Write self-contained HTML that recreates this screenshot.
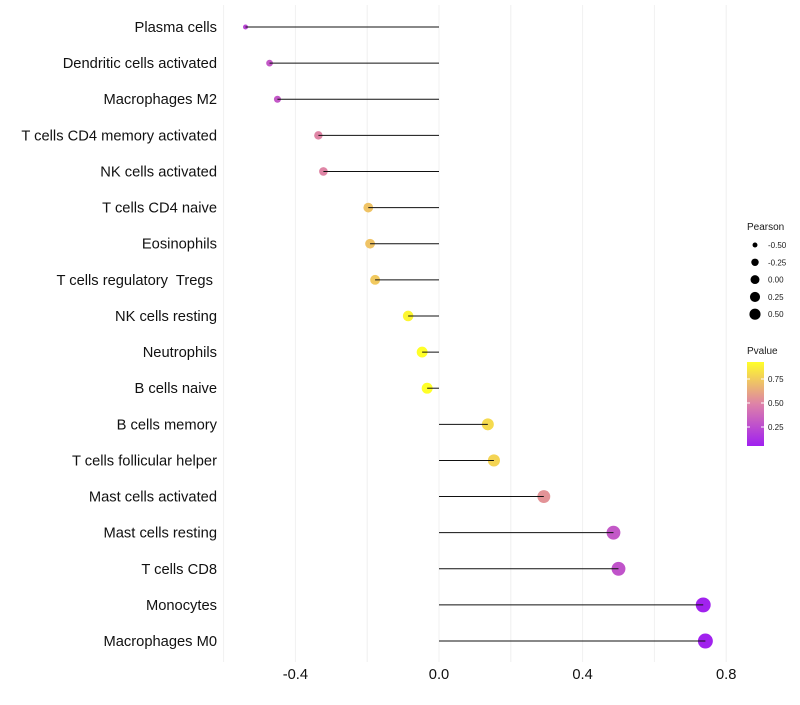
<!DOCTYPE html>
<html><head><meta charset="utf-8"><style>
body{margin:0;background:#fff;font-family:"Liberation Sans",sans-serif}
</style></head><body>
<svg id="chart" width="800" height="700" xmlns="http://www.w3.org/2000/svg"></svg>
<script>
const categories=["Plasma cells","Dendritic cells activated","Macrophages M2","T cells CD4 memory activated","NK cells activated","T cells CD4 naive","Eosinophils","T cells regulatory  Tregs ","NK cells resting","Neutrophils","B cells naive","B cells memory","T cells follicular helper","Mast cells activated","Mast cells resting","T cells CD8","Monocytes","Macrophages M0"];
const pearson=[-0.539,-0.472,-0.45,-0.336,-0.322,-0.197,-0.192,-0.178,-0.086,-0.047,-0.033,0.136,0.153,0.292,0.486,0.5,0.736,0.742];
const pvalue=[0.22,0.3,0.3,0.5,0.5,0.72,0.72,0.74,0.9,0.93,0.95,0.8,0.78,0.55,0.3,0.28,0.06,0.06];
const xTicks=[-0.4,0,0.4,0.8];
const xTickLabels=["-0.4","0.0","0.4","0.8"];
const gridVals=[-0.6,-0.4,-0.2,0,0.2,0.4,0.6,0.8];
const sizeLegend=[-0.5,-0.25,0,0.25,0.5];
const sizeLegendLabels=["-0.50","-0.25","0.00","0.25","0.50"];
const pLegend=[0.75,0.5,0.25];
const pLegendLabels=["0.75","0.50","0.25"];

const svg=document.getElementById('chart');
const NS="http://www.w3.org/2000/svg";
const x=v=>439+v*359;
const y=i=>27+i*36.12;
const rad=v=>2+5.5*Math.sqrt(Math.max(0,v+0.55)/1.3);
function lerp(a,b,t){return a.map((c,i)=>Math.round(c+(b[i]-c)*t));}
function col(p){
 const lo=[160,32,240],mid=[222,130,168],hi=[255,255,40];
 const t=Math.max(0,Math.min(1,(p-0.05)/(0.93-0.05)));
 const c=t<0.5?lerp(lo,mid,t*2):lerp(mid,hi,(t-0.5)*2);
 return `rgb(${c[0]},${c[1]},${c[2]})`;
}
function mk(tag,attrs,parent){const e=document.createElementNS(NS,tag);for(const k in attrs)e.setAttribute(k,attrs[k]);(parent||svg).appendChild(e);return e;}

gridVals.forEach(v=>{
 const l=mk('line',{x1:x(v),x2:x(v),y1:5,y2:662,stroke:'#f0f0f0','stroke-width':1});
 
 
});
categories.forEach((c,i)=>{
 const t=mk('text',{x:217,y:y(i)+5,'text-anchor':'end','font-size':14.7,fill:'#111'});
 t.style.whiteSpace='pre';
 t.textContent=c;
 
 
});
xTicks.forEach((v,i)=>{
 const t=mk('text',{x:x(v),y:679,'text-anchor':'middle','font-size':14.7,fill:'#111'});
 t.textContent=xTickLabels[i];
 
 
});
categories.forEach((c,i)=>{
 const v=pearson[i];
 const pt=mk('circle',{cx:x(v),cy:y(i),r:rad(v),fill:col(pvalue[i])});
 
 
 const seg=mk('line',{x1:x(0),x2:x(v),y1:y(i),y2:y(i),stroke:'#111','stroke-width':1});
 
 
});
let t=mk('text',{x:747,y:230,'font-size':10,fill:'#1a1a1a'});t.textContent='Pearson';


sizeLegend.forEach((v,i)=>{
 const yy=245+i*17.3;
 const c=mk('circle',{cx:755,cy:yy,r:rad(v)*0.8,fill:'#000'});
 
 
 const tt=mk('text',{x:768,y:yy+3,'font-size':8,fill:'#1a1a1a'});tt.textContent=sizeLegendLabels[i];
 
 
});
t=mk('text',{x:747,y:354,'font-size':10,fill:'#1a1a1a'});t.textContent='Pvalue';


const defs=mk('defs',{});
const g=mk('linearGradient',{id:'pg',x1:0,y1:1,x2:0,y2:0},defs);
[0,0.25,0.5,0.75,1].forEach(s=>mk('stop',{offset:s,'stop-color':col(0.052+s*(0.927-0.052))},g));
const bar=mk('rect',{x:747,y:362,width:17,height:84,fill:'url(#pg)'});


pLegend.forEach((v,i)=>{
 const yy=446-(v-0.052)/(0.927-0.052)*84;
 mk('line',{x1:747,x2:750,y1:yy,y2:yy,stroke:'#fff'});
 mk('line',{x1:761,x2:764,y1:yy,y2:yy,stroke:'#fff'});
 const tt=mk('text',{x:768,y:yy+3,'font-size':8,fill:'#1a1a1a'});tt.textContent=pLegendLabels[i];
 
 
});
</script>
</body></html>
